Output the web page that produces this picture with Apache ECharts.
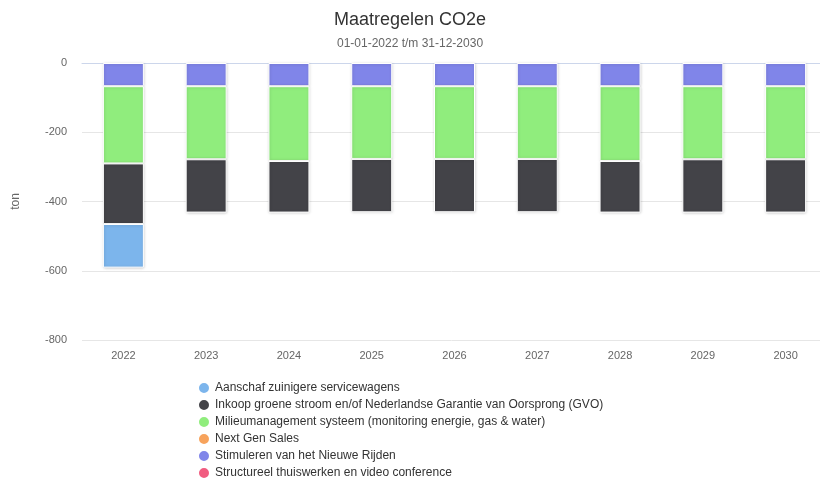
<!DOCTYPE html>
<html><head><meta charset="utf-8">
<script src="https://cdn.jsdelivr.net/npm/echarts@6/dist/echarts.min.js"></script>
<style>html,body{margin:0;padding:0;background:#fff}#c{width:820px;height:479px}</style>
</head><body><div id="c"></div>
<script>
const categories = ['2022','2023','2024','2025','2026','2027','2028','2029','2030'];
const aanschaf = [-126, null, null, null, null, null, null, null, null];
const inkoop = [-175, -154, -149, -154, -154, -154, -149, -154, -154];
const milieu = [-223, -211, -216, -210, -210, -210, -216, -211, -211];
const nextGen = [null, null, null, null, null, null, null, null, null];
const stimuleren = [-67, -67, -67, -67, -67, -67, -67, -67, -67];
const structureel = [null, null, null, null, null, null, null, null, null];
const yTicks = [-800, -600, -400, -200, 0];

const names = {
  aanschaf: 'Aanschaf zuinigere servicewagens',
  inkoop: 'Inkoop groene stroom en/of Nederlandse Garantie van Oorsprong (GVO)',
  milieu: 'Milieumanagement systeem (monitoring energie, gas & water)',
  nextGen: 'Next Gen Sales',
  stimuleren: 'Stimuleren van het Nieuwe Rijden',
  structureel: 'Structureel thuiswerken en video conference'
};
const colors = {aanschaf:'#7cb5ec', inkoop:'#434348', milieu:'#90ed7d', nextGen:'#f7a35c', stimuleren:'#8085e9', structureel:'#f15c80'};
function s(key, data){
  return {name: names[key], type:'bar', stack:'t', data: data, barWidth: 41,
    itemStyle:{color: colors[key], borderColor:'#ffffff', borderWidth:1, shadowColor:'rgba(0,0,0,0.18)', shadowBlur:3, shadowOffsetX:0.5, shadowOffsetY:0.5}};
}
const chart = echarts.init(document.getElementById('c'));
chart.setOption({
  animation:false,
  textStyle:{fontFamily:'Liberation Sans, Arial, sans-serif'},
  title:{text:'Maatregelen CO2e', subtext:'01-01-2022 t/m 31-12-2030', left:'center', top:6, itemGap:9,
    textStyle:{fontSize:18, fontWeight:'normal', color:'#333333'}, subtextStyle:{fontSize:12, color:'#666666'}},
  legend:{orient:'vertical', left:192, top:376, height:120, itemGap:3, itemWidth:12, itemHeight:12, icon:'circle',
    textStyle:{fontSize:12, color:'#333333'},
    data:[names.aanschaf, names.inkoop, names.milieu, names.nextGen, names.stimuleren, names.structureel]},
  grid:{left:82, top:63, width:745, height:277, outerBoundsMode:'none'},
  xAxis:{type:'category', data:categories, axisTick:{show:false}, axisLine:{lineStyle:{color:'#ccd6eb'}},
    axisLabel:{color:'#666666', fontSize:11, margin:10}},
  yAxis:{type:'value', min:-800, max:0, interval:200, name:'ton', nameLocation:'middle', nameGap:60, nameRotate:90,
    nameTextStyle:{color:'#666666', fontSize:12},
    axisLabel:{color:'#666666', fontSize:11, margin:15, customValues: yTicks},
    splitLine:{lineStyle:{color:'#e6e6e6'}}, axisLine:{show:false}, axisTick:{show:false}},
  series:[s('stimuleren', stimuleren), s('milieu', milieu), s('inkoop', inkoop), s('aanschaf', aanschaf), s('nextGen', nextGen), s('structureel', structureel)]
});
</script></body></html>
